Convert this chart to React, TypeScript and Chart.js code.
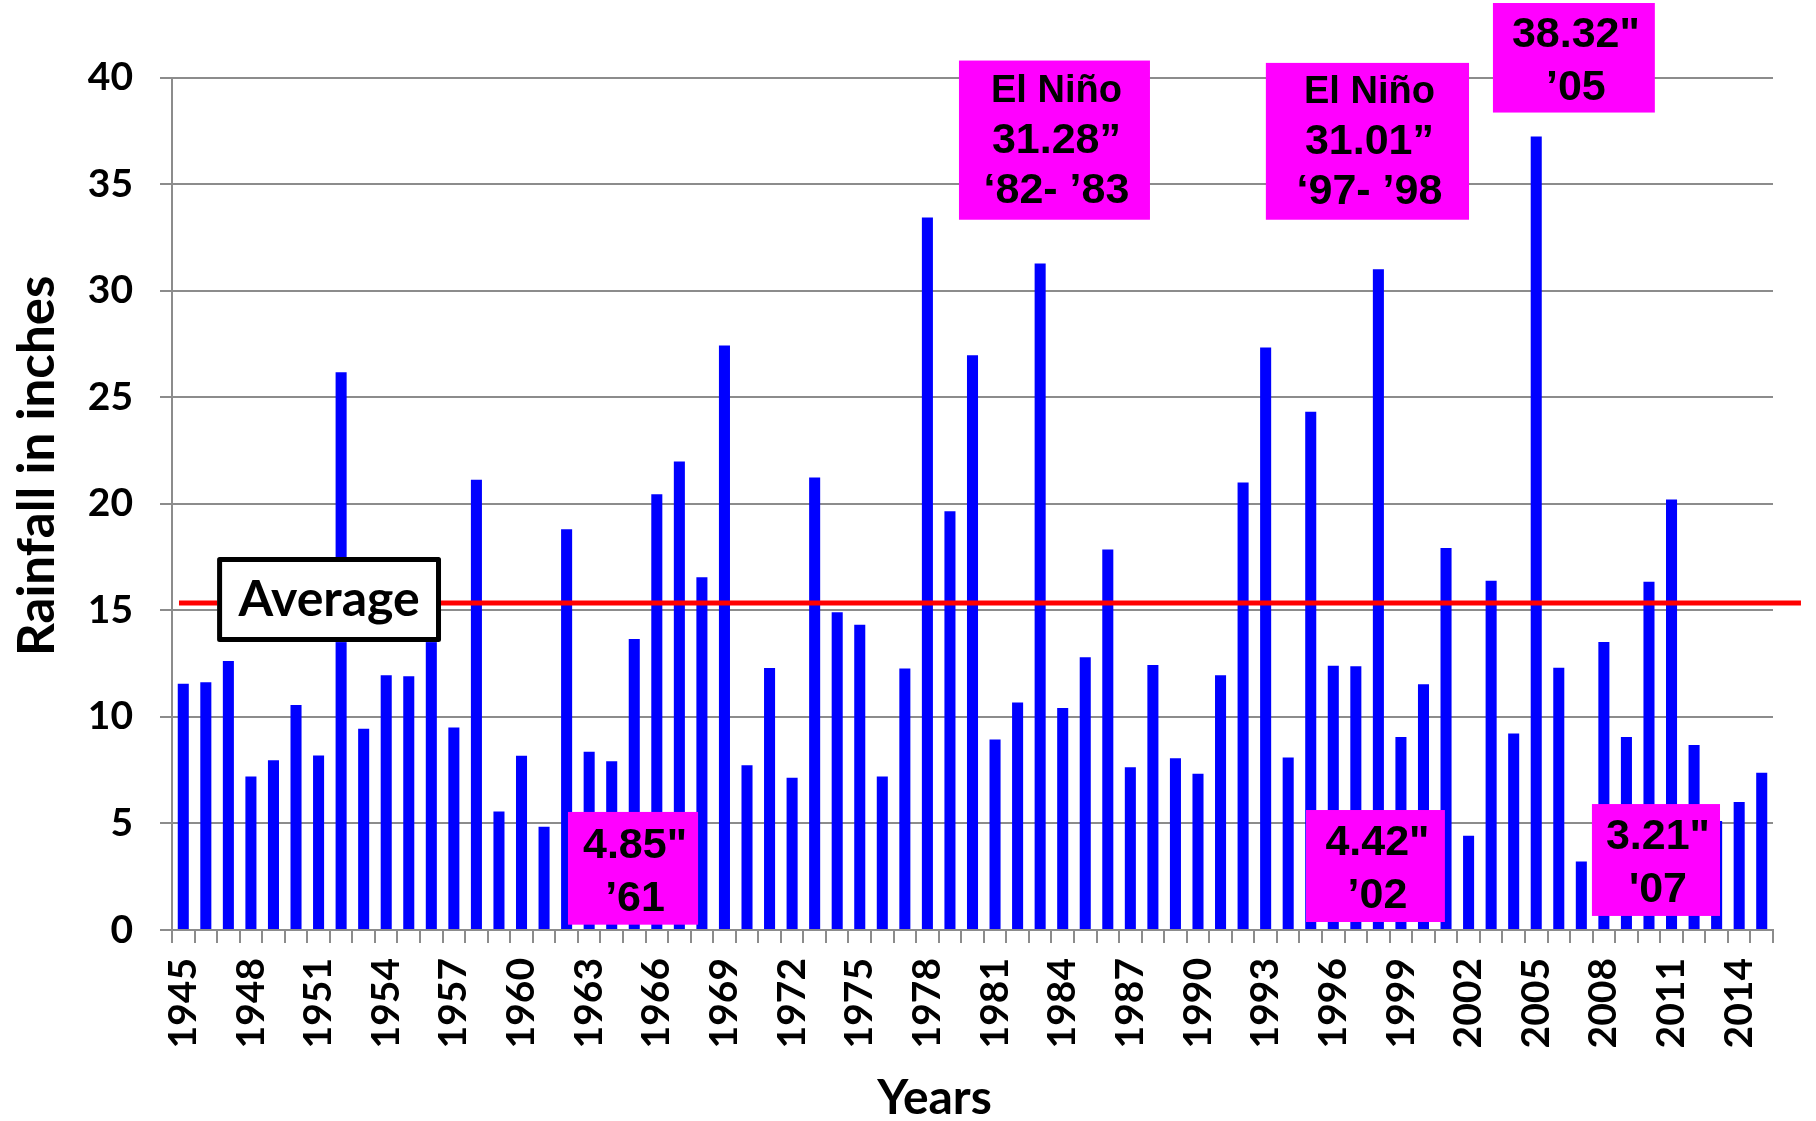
import React, { useEffect, useRef } from 'react';
import { Chart, registerables } from 'chart.js';

Chart.register(...registerables);

// ---------- data ----------
const years = [
  '1945', '1946', '1947', '1948', '1949', '1950', '1951', '1952', '1953', '1954',
  '1955', '1956', '1957', '1958', '1959', '1960', '1961', '1962', '1963', '1964',
  '1965', '1966', '1967', '1968', '1969', '1970', '1971', '1972', '1973', '1974',
  '1975', '1976', '1977', '1978', '1979', '1980', '1981', '1982', '1983', '1984',
  '1985', '1986', '1987', '1988', '1989', '1990', '1991', '1992', '1993', '1994',
  '1995', '1996', '1997', '1998', '1999', '2000', '2001', '2002', '2003', '2004',
  '2005', '2006', '2007', '2008', '2009', '2010', '2011', '2012', '2013', '2014',
  '2015',
];

const rainfall = [
  11.56, 11.63, 12.62, 7.2, 7.97, 10.56, 8.19, 26.17, 9.44, 11.96,
  11.91, 16.0, 9.5, 21.13, 5.56, 8.18, 4.85, 18.8, 8.37, 7.92,
  13.66, 20.45, 21.98, 16.55, 27.43, 7.73, 12.29, 7.15, 21.23, 14.91,
  14.32, 7.2, 12.27, 33.44, 19.65, 26.97, 8.94, 10.68, 31.28, 10.42,
  12.8, 17.85, 7.64, 12.43, 8.06, 7.33, 11.96, 21.0, 27.33, 8.09,
  24.32, 12.4, 12.38, 31.01, 9.06, 11.53, 17.92, 4.42, 16.39, 9.22,
  37.24, 12.31, 3.21, 13.51, 9.06, 16.34, 20.2, 8.68, 5.12, 6.01,
  7.38,
];

const yTickValues = [0, 5, 10, 15, 20, 25, 30, 35, 40];
const averageRainfall = 15.35;

const xTitle = 'Years';
const yTitle = 'Rainfall in inches';
const averageLabel = 'Average';

const calloutTexts = [
  ['El Niño', '31.28”', '‘82- ’83'],
  ['El Niño', '31.01”', '‘97- ’98'],
  ['38.32"', '’05'],
  ['4.85"', '’61'],
  ['4.42"', '’02'],
  ['3.21"', "'07"],
];

// ---------- layout (in axis units: category index / inches) ----------
const calloutBoxes = [
  { x0: 34.4, x1: 42.87, yTop: 40.8, yBottom: 33.33 },
  { x0: 48.01, x1: 57.02, yTop: 40.69, yBottom: 33.33 },
  { x0: 58.08, x1: 65.26, yTop: 43.5, yBottom: 38.36 },
  { x0: 17.06, x1: 22.83, yTop: 5.54, yBottom: 0.25 },
  { x0: 49.79, x1: 55.95, yTop: 5.63, yBottom: 0.375 },
  { x0: 62.47, x1: 68.15, yTop: 5.91, yBottom: 0.66 },
];
const averageBox = { x0: 1.5, x1: 11.43, yTop: 17.5, yBottom: 13.51 };
const averageLineSpan = { x0: -0.19, x1: 71.74 };

const CAL = 'Lato, "Open Sans", sans-serif';
const ARIAL = '"Liberation Sans", Arial, sans-serif';
const GRID = '#8c8c8c';

const overlayPlugin = {
  id: 'overlay',
  afterDatasetsDraw(chart: any) {
    const { ctx } = chart;
    const xs = chart.scales.x;
    const ys = chart.scales.y;
    ctx.save();

    // average line
    const ay = ys.getPixelForValue(averageRainfall);
    ctx.strokeStyle = '#ff0000';
    ctx.lineWidth = 5;
    ctx.beginPath();
    ctx.moveTo(xs.getPixelForValue(averageLineSpan.x0), ay);
    ctx.lineTo(xs.getPixelForValue(averageLineSpan.x1), ay);
    ctx.stroke();

    // average label box
    {
      const l = xs.getPixelForValue(averageBox.x0);
      const r = xs.getPixelForValue(averageBox.x1);
      const t = ys.getPixelForValue(averageBox.yTop);
      const b = ys.getPixelForValue(averageBox.yBottom);
      const lw = 5;
      ctx.fillStyle = '#ffffff';
      ctx.fillRect(l, t, r - l, b - t);
      ctx.strokeStyle = '#000000';
      ctx.lineWidth = lw;
      ctx.lineJoin = 'round';
      ctx.strokeRect(l + lw / 2, t + lw / 2, r - l - lw, b - t - lw);
      ctx.fillStyle = '#000000';
      ctx.font = `bold 50px ${CAL}`;
      ctx.textAlign = 'center';
      ctx.textBaseline = 'middle';
      ctx.fillText(averageLabel, (l + r) / 2, (t + b) / 2);
    }

    // magenta callouts
    calloutBoxes.forEach((box, i) => {
      const l = xs.getPixelForValue(box.x0);
      const r = xs.getPixelForValue(box.x1);
      const t = ys.getPixelForValue(box.yTop);
      const b = ys.getPixelForValue(box.yBottom);
      ctx.fillStyle = '#ff00ff';
      ctx.fillRect(l, t, r - l, b - t);
      const lines = calloutTexts[i];
      const three = lines.length === 3;
      const spacing = three ? 49.5 : 53;
      const cy = (t + b) / 2 + (three ? 1 : 4);
      const cx = (l + r) / 2 + 2;
      ctx.fillStyle = '#000000';
      ctx.textAlign = 'center';
      ctx.textBaseline = 'middle';
      lines.forEach((txt, j) => {
        const size = txt.startsWith('El') ? 38 : 43;
        ctx.font = `bold ${size}px ${ARIAL}`;
        const yy = cy + (j - (lines.length - 1) / 2) * spacing;
        ctx.fillText(txt, cx, yy);
      });
    });
    ctx.restore();
  },
  afterDraw(chart: any) {
    const { ctx, chartArea } = chart;
    ctx.save();
    ctx.fillStyle = '#000000';
    // y title
    ctx.font = `bold 51px ${CAL}`;
    ctx.textAlign = 'center';
    ctx.textBaseline = 'alphabetic';
    ctx.translate(54, (chartArea.top + chartArea.bottom) / 2 - 38);
    ctx.rotate(-Math.PI / 2);
    ctx.fillText(yTitle, 0, 0);
    ctx.restore();
    ctx.save();
    ctx.fillStyle = '#000000';
    ctx.font = `bold 48px ${CAL}`;
    ctx.textAlign = 'center';
    ctx.textBaseline = 'alphabetic';
    ctx.fillText(xTitle, (chartArea.left + chartArea.right) / 2 - 38, 1114);
    ctx.restore();
  },
};

export default function App() {
  const canvasRef = useRef<HTMLCanvasElement | null>(null);

  useEffect(() => {
    const canvas = canvasRef.current;
    if (!canvas) return;
    const chart = new Chart(canvas, {
      type: 'bar',
      data: {
        labels: years,
        datasets: [
          {
            label: 'Rainfall',
            data: rainfall,
            backgroundColor: '#0000ff',
            borderWidth: 0,
            categoryPercentage: 1,
            barPercentage: 0.49,
          },
        ],
      },
      options: {
        responsive: false,
        animation: false,
        devicePixelRatio: 1,
        layout: { padding: { top: 77.6, right: 43, left: 0, bottom: 0 } },
        plugins: {
          legend: { display: false },
          tooltip: { enabled: false },
          title: { display: false },
        },
        scales: {
          x: {
            type: 'category',
            offset: true,
            afterFit: (s: any) => {
              s.height = 191;
              s.paddingLeft = 0;
              s.paddingRight = 0;
              s.paddingTop = 0;
              s.paddingBottom = 0;
            },
            grid: {
              offset: true,
              drawOnChartArea: false,
              drawTicks: true,
              tickLength: 13,
              color: GRID,
              lineWidth: 2,
            },
            border: { color: GRID, width: 2 },
            ticks: {
              autoSkip: false,
              maxRotation: 90,
              minRotation: 90,
              padding: 15,
              color: '#000000',
              font: { family: CAL, size: 39, weight: 'bold' },
              callback: (_v: any, idx: number) => (idx % 3 === 0 ? years[idx] : ''),
            },
          },
          y: {
            min: 0,
            max: 40,
            afterFit: (s: any) => {
              s.width = 172;
              s.paddingLeft = 0;
              s.paddingRight = 0;
              s.paddingTop = 0;
              s.paddingBottom = 0;
            },
            afterBuildTicks: (s: any) => {
              s.ticks = yTickValues.map((v) => ({ value: v }));
            },
            grid: {
              color: GRID,
              lineWidth: 2,
              drawTicks: true,
              tickLength: 12,
            },
            border: { color: GRID, width: 2 },
            ticks: {
              padding: 27,
              color: '#000000',
              font: { family: CAL, size: 39, weight: 'bold' },
            },
          },
        },
      },
      plugins: [overlayPlugin],
    } as any);

    let alive = true;
    if ((document as any).fonts) {
      Promise.all([
        (document as any).fonts.load(`bold 40px Lato`),
        (document as any).fonts.load(`bold 40px "Liberation Sans"`),
      ]).then(() => {
        if (alive) chart.update();
      }).catch(() => {});
    }
    return () => {
      alive = false;
      chart.destroy();
    };
  }, []);

  return (
    <div style={{ position: 'fixed', left: 0, top: 0, width: 1816, height: 1121, background: '#ffffff' }}>
      <canvas ref={canvasRef} width={1816} height={1121} style={{ width: 1816, height: 1121, display: 'block' }} />
    </div>
  );
}
